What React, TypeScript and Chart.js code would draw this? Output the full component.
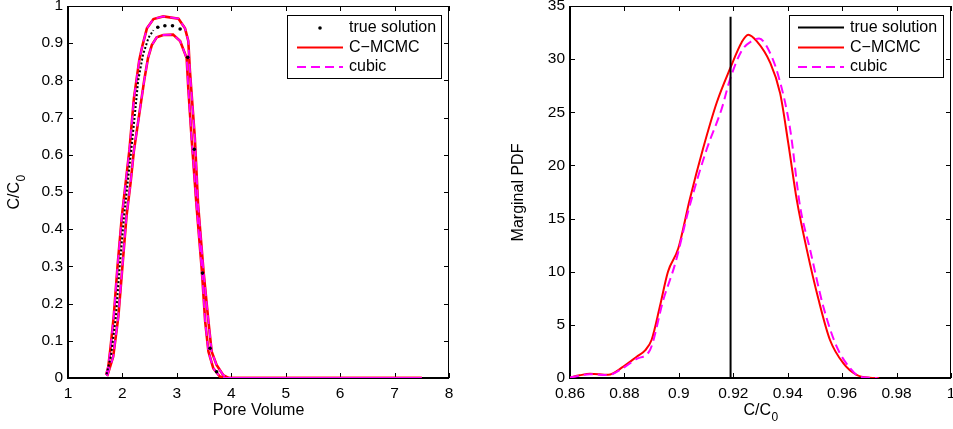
import React, { useEffect, useRef } from 'react';
import { Chart, registerables } from 'chart.js';
Chart.register(...registerables);

const FONT_FAMILY = '"Liberation Sans", Arial, Helvetica, sans-serif';

// ---------------- Left panel: breakthrough curves ----------------
const poreVolumeTicks = [1, 2, 3, 4, 5, 6, 7, 8];
const poreVolumeTickLabels = ['1', '2', '3', '4', '5', '6', '7', '8'];
const concTicks = [0, 0.1, 0.2, 0.3, 0.4, 0.5, 0.6, 0.7, 0.8, 0.9, 1];
const concTickLabels = ['0', '0.1', '0.2', '0.3', '0.4', '0.5', '0.6', '0.7', '0.8', '0.9', '1'];

// C-MCMC upper / lower bounds
const mcmcUpperX = [1.70, 1.74, 1.78, 1.84, 1.91, 1.99, 2.06, 2.13, 2.21, 2.31, 2.37, 2.45, 2.57, 2.75, 3.03, 3.15, 3.21, 3.24, 3.33, 3.39, 3.49, 3.58, 3.64, 3.73, 3.85, 3.95, 7.5];
const mcmcUpperY = [0.008, 0.03, 0.08, 0.165, 0.30, 0.435, 0.525, 0.615, 0.75, 0.855, 0.895, 0.94, 0.965, 0.972, 0.966, 0.94, 0.906, 0.826, 0.646, 0.466, 0.287, 0.152, 0.071, 0.035, 0.008, 0, 0];
const mcmcLowerX = [1.72, 1.83, 1.925, 2.00, 2.075, 2.15, 2.21, 2.30, 2.40, 2.47, 2.54, 2.63, 2.75, 2.93, 3.06, 3.18, 3.21, 3.27, 3.36, 3.46, 3.52, 3.58, 3.67, 3.79, 3.90, 7.5];
const mcmcLowerY = [0.005, 0.057, 0.165, 0.30, 0.435, 0.525, 0.61, 0.70, 0.80, 0.86, 0.895, 0.916, 0.922, 0.923, 0.906, 0.86, 0.78, 0.646, 0.466, 0.287, 0.152, 0.071, 0.026, 0.004, 0, 0];
// cubic bounds (overlap the C-MCMC bounds)
const cubicUpperX = mcmcUpperX;
const cubicUpperY = mcmcUpperY;
const cubicLowerX = mcmcLowerX;
const cubicLowerY = mcmcLowerY;
// true solution (densely sampled rise, then sparse samples)
const trueDenseX = [1.71, 1.79, 1.88, 1.95, 2.03, 2.10, 2.16, 2.23, 2.29, 2.38, 2.48, 2.57];
const trueDenseY = [0.01, 0.06, 0.165, 0.30, 0.435, 0.53, 0.61, 0.71, 0.80, 0.87, 0.915, 0.935];
const trueSparseX = [2.65, 2.78, 2.92, 3.06, 3.20, 3.32, 3.47, 3.61, 3.73];
const trueSparseY = [0.943, 0.947, 0.947, 0.938, 0.862, 0.615, 0.282, 0.08, 0.017];

// ---------------- Right panel: marginal PDF ----------------
const pdfXTicks = [0.86, 0.88, 0.9, 0.92, 0.94, 0.96, 0.98, 1];
const pdfXTickLabels = ['0.86', '0.88', '0.9', '0.92', '0.94', '0.96', '0.98', '1'];
const pdfYTicks = [0, 5, 10, 15, 20, 25, 30, 35];
const pdfYTickLabels = ['0', '5', '10', '15', '20', '25', '30', '35'];

const pdfMcmcX = [0.860, 0.8635, 0.8674, 0.874, 0.8796, 0.8845, 0.8876, 0.890, 0.893, 0.896, 0.8998, 0.904, 0.9088, 0.9139, 0.9188, 0.9231, 0.9255, 0.9286, 0.9335, 0.9372, 0.9402, 0.9433, 0.947, 0.9513, 0.9555, 0.9604, 0.9653, 0.970, 0.9736];
const pdfMcmcY = [0.05, 0.25, 0.4, 0.3, 1.07, 2.0, 2.6, 3.6, 6.7, 10.0, 12.2, 16.8, 21.5, 25.9, 29.1, 31.6, 32.3, 31.7, 29.7, 26.8, 22.1, 16.8, 12.1, 7.4, 3.6, 1.4, 0.3, 0.03, 0];
const pdfCubicX = [0.860, 0.8674, 0.874, 0.8796, 0.8845, 0.8894, 0.8943, 0.8987, 0.9036, 0.9102, 0.9157, 0.9188, 0.9231, 0.9268, 0.9295, 0.9329, 0.9366, 0.9409, 0.9445, 0.9482, 0.9531, 0.958, 0.963, 0.9666, 0.973];
const pdfCubicY = [0.05, 0.35, 0.28, 0.95, 1.8, 2.64, 7.36, 10.8, 15.85, 21.5, 25.3, 28.1, 30.8, 31.7, 31.95, 30.9, 28.4, 23.4, 16.2, 12.1, 6.7, 2.95, 0.9, 0.12, 0];
const pdfTrueX = [0.919, 0.919];
const pdfTrueY = [0, 34];

const RED = '#ff0000';
const MAGENTA = '#ff00ff';
const DASH = [9, 5];

function pairs(xs: number[], ys: number[]) {
  return xs.map((x, i) => ({ x, y: ys[i] }));
}

type LegendItem = { label: string; kind: 'dot' | 'line' | 'dash'; color: string };
type PanelCfg = {
  legendBox: { x: number; y: number; w: number; h: number };
  sampleX0: number;
  sampleX1: number;
  textX: number;
  rowY: number[];
  items: LegendItem[];
  xTitle: { main: string; sub?: string; cx: number; cy: number };
  yTitle: { main: string; sub?: string; cx: number; cy: number };
};

function drawTitle(ctx: CanvasRenderingContext2D, main: string, sub: string | undefined, cx: number, cy: number, rotate: boolean) {
  ctx.save();
  ctx.translate(cx, cy);
  if (rotate) ctx.rotate(-Math.PI / 2);
  ctx.fillStyle = '#000';
  ctx.textBaseline = 'middle';
  ctx.textAlign = 'left';
  ctx.font = `16px ${FONT_FAMILY}`;
  const w1 = ctx.measureText(main).width;
  let w2 = 0;
  if (sub) {
    ctx.font = `12px ${FONT_FAMILY}`;
    w2 = ctx.measureText(sub).width;
  }
  const x0 = -(w1 + w2) / 2;
  ctx.font = `16px ${FONT_FAMILY}`;
  ctx.fillText(main, x0, 0);
  if (sub) {
    ctx.font = `12px ${FONT_FAMILY}`;
    ctx.fillText(sub, x0 + w1 + 0.5, 7);
  }
  ctx.restore();
}

function makeAxesPlugin(cfg: PanelCfg) {
  return {
    id: 'matlabAxes',
    beforeDatasetsDraw(chart: any) {
      const { ctx, chartArea: a, scales } = chart;
      const xs = scales.x;
      const ys = scales.y;
      const L = 5;
      ctx.save();
      ctx.strokeStyle = '#000';
      ctx.lineWidth = 1;
      ctx.beginPath();
      xs.ticks.forEach((t: any) => {
        const px = Math.round(xs.getPixelForValue(t.value)) + 0.5;
        ctx.moveTo(px, a.bottom);
        ctx.lineTo(px, a.bottom - L);
        ctx.moveTo(px, a.top);
        ctx.lineTo(px, a.top + L);
      });
      ys.ticks.forEach((t: any) => {
        const py = Math.round(ys.getPixelForValue(t.value)) + 0.5;
        ctx.moveTo(a.left, py);
        ctx.lineTo(a.left + L, py);
        ctx.moveTo(a.right, py);
        ctx.lineTo(a.right - L, py);
      });
      ctx.stroke();
      // top & right
      ctx.beginPath();
      ctx.moveTo(a.left, a.top + 0.5);
      ctx.lineTo(a.right, a.top + 0.5);
      ctx.moveTo(a.right - 0.5, a.top);
      ctx.lineTo(a.right - 0.5, a.bottom);
      ctx.stroke();
      // bottom & left
      ctx.lineWidth = 2;
      ctx.beginPath();
      ctx.moveTo(a.left - 1, a.bottom);
      ctx.lineTo(a.right, a.bottom);
      ctx.moveTo(a.left, a.top);
      ctx.lineTo(a.left, a.bottom + 1);
      ctx.stroke();
      ctx.restore();
    },
    afterDraw(chart: any) {
      const { ctx } = chart;
      ctx.save();
      const b = cfg.legendBox;
      ctx.fillStyle = '#fff';
      ctx.fillRect(b.x, b.y, b.w, b.h);
      ctx.strokeStyle = '#000';
      ctx.lineWidth = 1;
      ctx.strokeRect(b.x + 0.5, b.y + 0.5, b.w - 1, b.h - 1);
      cfg.items.forEach((it, i) => {
        const y = cfg.rowY[i];
        if (it.kind === 'dot') {
          ctx.fillStyle = it.color;
          ctx.beginPath();
          ctx.arc((cfg.sampleX0 + cfg.sampleX1) / 2, y, 1.8, 0, Math.PI * 2);
          ctx.fill();
        } else {
          ctx.strokeStyle = it.color;
          ctx.lineWidth = 2;
          ctx.setLineDash(it.kind === 'dash' ? DASH : []);
          ctx.beginPath();
          ctx.moveTo(cfg.sampleX0, y);
          ctx.lineTo(cfg.sampleX1, y);
          ctx.stroke();
          ctx.setLineDash([]);
        }
        ctx.fillStyle = '#000';
        ctx.font = `16px ${FONT_FAMILY}`;
        ctx.textBaseline = 'middle';
        ctx.textAlign = 'left';
        ctx.fillText(it.label, cfg.textX, y);
      });
      drawTitle(ctx, cfg.xTitle.main, cfg.xTitle.sub, cfg.xTitle.cx, cfg.xTitle.cy, false);
      drawTitle(ctx, cfg.yTitle.main, cfg.yTitle.sub, cfg.yTitle.cx, cfg.yTitle.cy, true);
      ctx.restore();
    },
  };
}

function xScale(min: number, max: number, ticks: number[], labels: string[]) {
  return {
    type: 'linear',
    min,
    max,
    grid: { display: false, drawTicks: false },
    border: { display: false },
    ticks: {
      font: { family: FONT_FAMILY, size: 15.5 },
      color: '#000',
      padding: 6,
      maxRotation: 0,
      autoSkip: false,
      callback: (_v: any, i: number) => labels[i],
    },
    afterBuildTicks: (s: any) => {
      s.ticks = ticks.map((v) => ({ value: v }));
    },
    afterFit: (s: any) => {
      s.height = 51;
      s.paddingLeft = 0;
      s.paddingRight = 0;
    },
  };
}

function yScale(min: number, max: number, ticks: number[], labels: string[], width: number) {
  return {
    type: 'linear',
    min,
    max,
    grid: { display: false, drawTicks: false },
    border: { display: false },
    ticks: {
      font: { family: FONT_FAMILY, size: 15.5 },
      color: '#000',
      padding: 5,
      autoSkip: false,
      callback: (_v: any, i: number) => labels[i],
    },
    afterBuildTicks: (s: any) => {
      s.ticks = ticks.map((v) => ({ value: v }));
    },
    afterFit: (s: any) => {
      s.width = width;
      s.paddingTop = 0;
      s.paddingBottom = 0;
    },
  };
}

function lineDs(xs: number[], ys: number[], color: string, dashed: boolean, extra: any = {}) {
  return {
    data: pairs(xs, ys),
    borderColor: color,
    backgroundColor: color,
    borderWidth: 2,
    borderDash: dashed ? DASH : [],
    pointRadius: 0,
    tension: 0,
    fill: false,
    ...extra,
  };
}

function leftConfig(): any {
  const cfg: PanelCfg = {
    legendBox: { x: 287, y: 15, w: 155, h: 64 },
    sampleX0: 297,
    sampleX1: 343,
    textX: 349,
    rowY: [28, 47.5, 67],
    items: [
      { label: 'true solution', kind: 'dot', color: '#000' },
      { label: 'C\u2212MCMC', kind: 'line', color: RED },
      { label: 'cubic', kind: 'dash', color: MAGENTA },
    ],
    xTitle: { main: 'Pore Volume', cx: 258.5, cy: 411 },
    yTitle: { main: 'C/C', sub: '0', cx: 15, cy: 192.5 },
  };
  return {
    type: 'line',
    data: {
      datasets: [
        lineDs(trueDenseX, trueDenseY, '#000', false, { borderDash: [2, 2], label: 'true solution' }),
        {
          data: pairs(trueSparseX, trueSparseY),
          showLine: false,
          pointRadius: 1.8,
          pointBackgroundColor: '#000',
          pointBorderWidth: 0,
          borderColor: '#000',
          label: 'true solution',
        },
        lineDs(cubicUpperX, cubicUpperY, MAGENTA, true, { label: 'cubic', borderWidth: 1.8 }),
        lineDs(cubicLowerX, cubicLowerY, MAGENTA, true, { label: 'cubic', borderWidth: 1.8 }),
        lineDs(mcmcUpperX, mcmcUpperY, RED, false, { label: 'C-MCMC', borderWidth: 2.6 }),
        lineDs(mcmcLowerX, mcmcLowerY, RED, false, { label: 'C-MCMC', borderWidth: 2.6 }),
      ],
    },
    options: {
      animation: false,
      responsive: false,
      devicePixelRatio: 1,
      layout: { padding: { left: 0, top: 6, right: 27, bottom: 0 } },
      scales: {
        x: xScale(1, 8, poreVolumeTicks, poreVolumeTickLabels),
        y: yScale(0, 1, concTicks, concTickLabels, 68),
      },
      plugins: { legend: { display: false }, tooltip: { enabled: false } },
    },
    plugins: [makeAxesPlugin(cfg)],
  };
}

function rightConfig(): any {
  const cfg: PanelCfg = {
    legendBox: { x: 313, y: 15, w: 155, h: 63 },
    sampleX0: 322,
    sampleX1: 368,
    textX: 374,
    rowY: [27.5, 47.5, 67],
    items: [
      { label: 'true solution', kind: 'line', color: '#000' },
      { label: 'C\u2212MCMC', kind: 'line', color: RED },
      { label: 'cubic', kind: 'dash', color: MAGENTA },
    ],
    xTitle: { main: 'C/C', sub: '0', cx: 284.5, cy: 411 },
    yTitle: { main: 'Marginal PDF', cx: 43, cy: 192.5 },
  };
  return {
    type: 'line',
    data: {
      datasets: [
        lineDs(pdfTrueX, pdfTrueY, '#000', false, { label: 'true solution' }),
        lineDs(pdfCubicX, pdfCubicY, MAGENTA, true, { label: 'cubic', cubicInterpolationMode: 'monotone' }),
        lineDs(pdfMcmcX, pdfMcmcY, RED, false, { label: 'C-MCMC', cubicInterpolationMode: 'monotone' }),
      ],
    },
    options: {
      animation: false,
      responsive: false,
      devicePixelRatio: 1,
      layout: { padding: { left: 0, top: 6, right: 25, bottom: 0 } },
      scales: {
        x: xScale(0.86, 1, pdfXTicks, pdfXTickLabels),
        y: yScale(0, 35, pdfYTicks, pdfYTickLabels, 94),
      },
      plugins: { legend: { display: false }, tooltip: { enabled: false } },
    },
    plugins: [makeAxesPlugin(cfg)],
  };
}

function Panel({ left, width, build }: { left: number; width: number; build: () => any }) {
  const ref = useRef<HTMLCanvasElement>(null);
  useEffect(() => {
    const chart = new Chart(ref.current as HTMLCanvasElement, build());
    return () => chart.destroy();
  }, []);
  return (
    <div style={{ position: 'absolute', left, top: 0, width, height: 429 }}>
      <canvas ref={ref} width={width} height={429} style={{ display: 'block', width, height: 429 }} />
    </div>
  );
}

export default function App() {
  return (
    <div
      style={{
        position: 'absolute',
        left: 0,
        top: 0,
        width: 953,
        height: 429,
        overflow: 'hidden',
        background: '#fff',
      }}
    >
      <Panel left={0} width={476} build={leftConfig} />
      <Panel left={476} width={500} build={rightConfig} />
    </div>
  );
}
